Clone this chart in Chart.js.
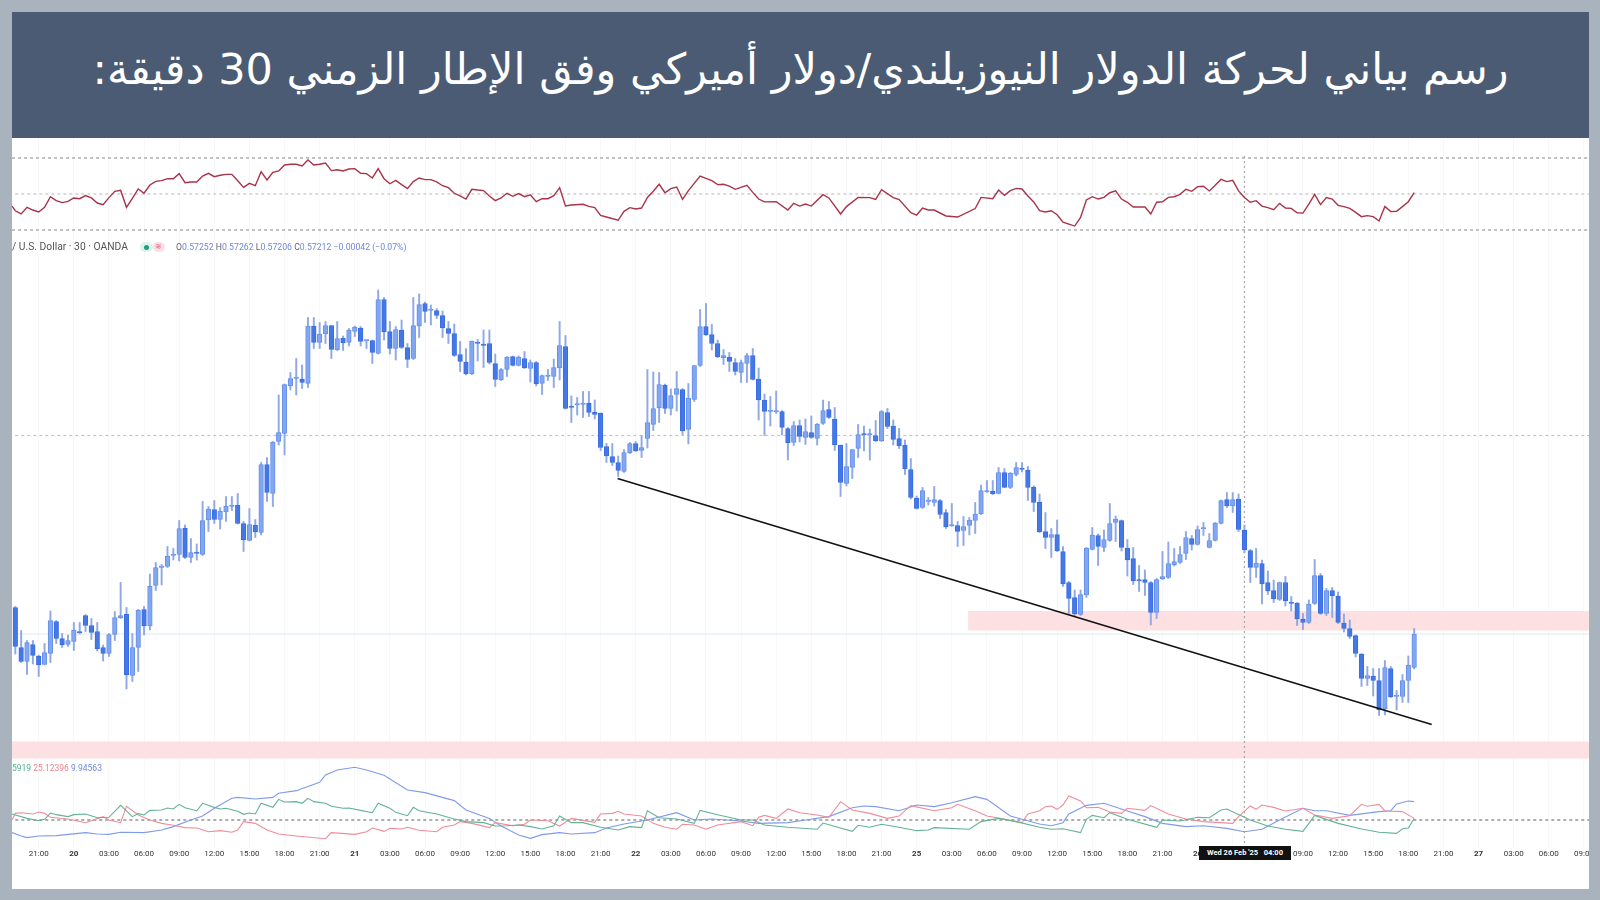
<!DOCTYPE html>
<html lang="ar">
<head>
<meta charset="utf-8">
<title>NZD/USD 30m</title>
<script src="https://cdn.jsdelivr.net/npm/chart.js@4"></script>
<style>
html,body{margin:0;padding:0;width:1600px;height:900px;overflow:hidden;background:#a9b3bd}
#panel{position:absolute;left:12px;top:138px;width:1577px;height:751px;background:#fff;z-index:0}
#c{position:absolute;left:0;top:0;z-index:1}
#head{position:absolute;left:12px;top:12px;width:1577px;height:126px;background:#4a5b73;color:#fff;z-index:3;
display:flex;align-items:center;justify-content:center;font:43px "DejaVu Sans",sans-serif;white-space:nowrap;padding-bottom:12px;box-sizing:border-box}
.b{position:absolute;background:#a9b3bd;z-index:3}
.t{position:absolute;z-index:2;font-family:Roboto,sans-serif;white-space:nowrap;line-height:12px}
#stamp{position:absolute;left:1199px;top:846px;width:92px;height:14px;background:#111;color:#fff;z-index:2;font:bold 7.5px/14px Roboto,sans-serif;text-align:center;white-space:pre}
</style>
</head>
<body>
<div id="panel"></div>
<canvas id="c" width="1600" height="900"></canvas>
<div id="head" dir="rtl">رسم بياني لحركة الدولار النيوزيلندي/دولار أميركي وفق الإطار الزمني 30 دقيقة:</div>
<div class="b" style="left:0;top:0;width:12px;height:900px"></div>
<div class="b" style="left:1589px;top:0;width:11px;height:900px"></div>
<div class="b" style="left:0;top:889px;width:1600px;height:11px"></div>
<div class="t" style="left:12px;top:241px;font-size:10.3px;color:#555">/ U.S. Dollar · 30 · OANDA</div>
<div class="t" style="left:140px;top:242px;width:13px;height:10px;border-radius:5px;background:#dff3ec;z-index:2"></div>
<div class="t" style="left:153px;top:242px;width:12px;height:10px;border-radius:5px;background:#fbdfe6;z-index:2"></div>
<div class="t" style="left:144px;top:245px;width:5px;height:5px;border-radius:3px;background:#1f9e80"></div>
<div class="t" style="left:155px;top:241px;font-size:8px;color:#d9668c">≋</div>
<div class="t" style="left:176px;top:241px;font-size:8.7px;color:#6f88d8"><span style="color:#666">O</span>0.57252 <span style="color:#666">H</span>0.57262 <span style="color:#666">L</span>0.57206 <span style="color:#666">C</span>0.57212 −0.00042 (−0.07%)</div>
<div class="t" style="left:12px;top:762px;font-size:8.5px"><span style="color:#4faf8a">5919</span> <span style="color:#ee7f8c">25.12396</span> <span style="color:#6f88e0">9.94563</span></div>
<div id="stamp">Wed 26 Feb '25   04:00</div>
<script>
// Prices in 1e-5 units (57252 = 0.57252)
const open=[57097,57017,56989,57023,57000,56983,57005,57069,57035,57023,
57029,57049,57081,57061,57049,57017,57005,57043,57076,57084,
56961,57017,57093,57060,57141,57177,57179,57201,57203,57256,
57197,57207,57203,57272,57293,57273,57288,57299,57302,57265,
57231,57262,57247,57383,57325,57429,57445,57540,57555,57554,
57545,57660,57627,57644,57661,57612,57636,57627,57649,57656,
57630,57631,57605,57713,57649,57615,57652,57617,57595,57660,
57705,57691,57691,57681,57655,57645,57603,57588,57564,57628,
57623,57625,57585,57552,57573,57599,57581,57595,57575,57587,
57545,57559,57559,57576,57619,57499,57502,57503,57506,57488,
57486,57419,57399,57387,57369,57406,57425,57411,57435,57463,
57496,57542,57495,57523,57533,57453,57513,57581,57659,57643,
57625,57596,57598,57587,57567,57585,57601,57554,57512,57489,
57488,57489,57455,57427,57461,57437,57447,57435,57465,57493,
57474,57422,57345,57377,57415,57445,57442,57441,57430,57487,
57460,57435,57422,57373,57316,57297,57309,57307,57311,57287,
57260,57261,57251,57261,57271,57284,57328,57330,57325,57367,
57337,57363,57376,57372,57338,57308,57249,57237,57243,57209,
57147,57117,57083,57122,57213,57241,57217,57231,57267,57271,
57216,57195,57152,57153,57147,57087,57154,57157,57182,57187,
57205,57235,57223,57254,57217,57231,57265,57313,57300,57314,
57252,57211,57177,57185,57147,57131,57113,57147,57107,57106,
57074,57067,57105,57161,57085,57131,57120,57066,57055,57041,
57004,56955,56960,56951,56894,56975,56919,56919,56951,56977];
const close=[57019,56989,57027,57001,56982,57007,57071,57035,57022,57031,
57052,57046,57061,57047,57014,57005,57043,57077,57081,56962,
57017,57092,57060,57140,57177,57179,57200,57203,57255,57197,
57207,57205,57271,57294,57273,57290,57300,57301,57265,57232,
57263,57248,57383,57327,57428,57447,57543,57555,57557,57547,
57660,57627,57644,57661,57613,57635,57626,57652,57658,57629,
57631,57607,57713,57648,57615,57653,57617,57593,57661,57703,
57689,57692,57681,57656,57645,57601,57589,57564,57630,57625,
57621,57587,57553,57573,57598,57581,57598,57576,57587,57544,
57561,57561,57577,57621,57495,57497,57505,57505,57487,57483,
57417,57400,57387,57371,57407,57425,57410,57417,57467,57495,
57543,57495,57521,57535,57450,57516,57581,57659,57642,57625,
57598,57601,57589,57569,57587,57601,57553,57512,57489,57491,
57490,57457,57426,57461,57439,57449,57437,57464,57491,57477,
57422,57347,57379,57413,57443,57442,57444,57430,57489,57459,
57433,57420,57374,57317,57295,57331,57311,57313,57283,57258,
57261,57249,57259,57272,57284,57331,57330,57324,57367,57337,
57366,57377,57373,57337,57307,57248,57237,57243,57210,57144,
57115,57084,57123,57216,57242,57219,57233,57265,57274,57217,
57192,57150,57150,57147,57087,57153,57159,57185,57189,57203,
57237,57223,57253,57256,57231,57266,57311,57300,57313,57253,
57212,57177,57186,57144,57130,57114,57147,57110,57105,57074,
57067,57104,57161,57085,57131,57120,57067,57055,57039,57005,
56955,56961,56951,56892,56977,56918,56920,56951,56982,57044];
const high=[57099,57051,57031,57031,57002,57025,57090,57071,57045,57042,
57067,57067,57083,57075,57067,57022,57045,57089,57147,57097,
57045,57093,57099,57164,57187,57183,57219,57215,57271,57262,
57235,57224,57309,57299,57311,57297,57319,57319,57325,57269,
57295,57273,57387,57397,57429,57522,57544,57567,57595,57582,
57677,57677,57667,57669,57661,57669,57640,57655,57660,57659,
57632,57632,57732,57717,57669,57659,57672,57625,57717,57724,
57708,57702,57695,57690,57669,57664,57629,57615,57630,57633,
57652,57652,57604,57575,57599,57600,57600,57609,57592,57589,
57562,57573,57594,57669,57641,57520,57517,57529,57529,57512,
57486,57425,57425,57400,57413,57427,57429,57441,57573,57568,
57567,57544,57534,57569,57535,57545,57581,57693,57705,57663,
57632,57613,57607,57595,57592,57605,57615,57576,57524,57519,
57530,57491,57457,57469,57472,57474,57480,57465,57512,57509,
57497,57422,57425,57413,57463,57460,57454,57471,57491,57495,
57472,57455,57432,57395,57320,57337,57317,57339,57313,57293,
57305,57269,57279,57277,57307,57342,57351,57351,57377,57375,
57367,57387,57387,57379,57340,57324,57287,57255,57272,57219,
57149,57132,57132,57217,57257,57244,57252,57305,57280,57272,
57233,57217,57181,57172,57149,57155,57209,57228,57215,57219,
57249,57241,57260,57267,57245,57267,57312,57327,57327,57324,
57262,57213,57215,57192,57170,57152,57148,57159,57119,57107,
57085,57112,57193,57165,57135,57137,57128,57084,57072,57042,
57005,56979,56975,56975,56991,56979,56931,56963,57000,57055];
const low=[57004,56987,56963,56984,56959,56982,56987,57025,57017,57019,
57011,57044,57049,57033,57010,56990,56999,57031,57075,56934,
56949,56969,57042,57052,57131,57142,57177,57192,57190,57195,
57187,57192,57201,57249,57265,57254,57269,57291,57264,57209,
57230,57237,57242,57309,57299,57422,57402,57532,57522,57535,
57537,57615,57615,57625,57595,57611,57611,57620,57639,57620,
57615,57585,57604,57632,57604,57592,57615,57577,57593,57637,
57667,57662,57675,57637,57625,57599,57569,57562,57563,57590,
57577,57584,57539,57551,57559,57580,57580,57575,57548,57540,
57523,57551,57537,57552,57494,57467,57482,57477,57479,57474,
57411,57387,57381,57359,57367,57405,57409,57397,57416,57451,
57467,57485,57482,57490,57443,57424,57509,57579,57641,57612,
57597,57583,57569,57562,57547,57547,57552,57472,57441,57460,
57485,57442,57392,57421,57428,57423,57435,57422,57463,57475,
57411,57319,57340,57355,57397,57410,57392,57429,57429,57455,
57422,57415,57363,57314,57294,57295,57302,57300,57275,57255,
57259,57219,57221,57242,57245,57283,57327,57323,57324,57337,
57335,57360,57368,57311,57289,57247,57215,57197,57209,57139,
57084,57080,57081,57117,57212,57181,57209,57229,57229,57210,
57160,57143,57129,57121,57062,57075,57153,57155,57180,57185,
57193,57212,57222,57241,57216,57230,57264,57297,57287,57249,
57206,57147,57157,57104,57123,57107,57111,57100,57090,57061,
57053,57065,57103,57083,57081,57077,57065,57048,57035,56998,
56939,56941,56920,56881,56882,56917,56892,56907,56907,56974];

// RSI: candle index / value
const rsiIdx=[-0.56,0,1,2,3,4,5,6,7,8,9,10,11,12,13,14,15,16,17,18,19,20,21,22,23,24,25,26,27,28,29,30,31,32,33,34,35,36,37,38,39,40,41,42,43,44,45,46,47,48,49,50,51,52,53,54,55,56,57,58,59,60,61,62,63,64,65,66,67,68,69,70,71,72,73,74,75,76,77,78,79,80,81,82,83,84,85,86,87,88,89,90,91,92,93,94,95,97,98,99,100,101,103,104,105,106,107,108,109,110,111,112,113,114,115,117,118,119,120,121,122,123,125,126,127,128,130,132,133,134,135,136,138,139,141,142,144,146,147,148,150,151,153,154,155,156,157,159,161,164,165,167,168,169,170,171,172,173,174,175,176,177,178,179,180,181,182,183,184,185,186,187,188,189,190,191,193,194,195,196,197,198,199,200,201,202,203,204,205,206,207,208,209,210,211,212,213,214,215,216,217,218,219,220,221,222,223,224,225,226,227,228,229,230,231,232,233,234,235,236,237,238,239];
const rsiVal=[43.3,40.7,38.9,42.6,41.1,40,42.6,48.5,46.3,45.2,45.9,47.8,47.4,49.1,47.8,45,44.1,48,51.5,52,42.6,47.6,52.8,50.4,55,57,57.4,58.5,58.5,61.3,56.3,56.7,56.7,60,61.5,59.6,60.4,60.9,60.9,57.4,53.7,55.9,54.6,62.4,57.8,62,62.8,66.1,66.5,66.5,65.6,68.9,66.1,66.5,67.2,63,63.5,62.8,63.9,64.1,61.5,61.3,58.9,64.1,58.5,55.7,57.6,55.2,53,56.9,58.9,58,58,56.7,54.6,53.5,50.4,48.9,47.2,52.6,52.2,51.9,48.9,46.3,47.8,50.4,48.7,50.2,48.5,49.6,45.7,47.4,47.4,49.1,53.5,43.3,43.9,44.3,43.1,42.4,38.1,37.2,35.4,40.4,42.4,41.7,42.2,48.1,51.5,55.4,50.7,53,53.9,47,51.9,60,58.7,57.4,55.2,55.4,54.4,52.6,54.8,50.9,47.2,45.6,45.7,41.1,44.8,43.3,44.4,43.3,49.6,47.8,38.9,43,48.1,48,47,52.4,48,46.9,39.6,38.3,42.2,41.1,41.1,37.8,37.2,41.9,48.1,47.4,52.2,49.3,51.9,53.1,52.8,48.9,45.6,40.7,40,40.7,38.5,34.4,33.3,32.2,37,46.7,48.5,47.2,48.1,50.7,51.7,47.2,45.4,42.8,42.8,38.9,45.4,45.7,48.1,48.5,49.8,52.6,51.5,54.1,54.3,51.7,54.8,58.1,56.9,57.6,51.7,48.1,45.4,46.3,43.3,42.4,41.3,44.8,42.2,42,39.6,39.4,44.4,49.8,44.1,48,47.2,43.7,43,42,39.8,37.4,38,37.4,35,43.1,40.2,40.4,43,45.7,50.7];
const rsiLevels=[70,50,30];

// Directional movement panel
const plusIdx=[-0.56,2,4,5,6,7,9,10,12,14,16,18,20,21,22,23,25,26,27,28,29,31,32,34,35,36,38,39,40,41,42,44,45,46,48,49,50,51,53,54,56,57,59,61,62,64,65,67,68,69,72,75,77,80,82,84,86,88,90,92,93,95,97,100,103,105,107,108,110,113,116,117,120,124,126,128,132,137,138,143,144,146,148,151,154,156,157,163,165,168,171,175,177,179,182,183,184,186,187,190,195,196,199,202,204,206,207,211,214,217,220,222,226,230,233,236,237,238,239];
const plusVal=[25.2,21.4,19.4,20.6,26,24.6,22.9,24.6,25.2,22,22.3,32.6,22.9,25.5,24.3,28.3,28.6,30.3,29.5,33.5,30.6,28,34.4,30.9,29.5,30.1,27.5,24.9,26,25.2,34.4,30.9,37.8,35.5,35.8,34.4,38.7,35.8,34.4,31.8,30.1,30.3,28.3,26.3,34.4,30.1,26.6,23.7,30.9,28,25.2,20.9,18.6,17.7,14.8,15.1,15.7,14.3,12.2,15.1,23.4,17.7,17.7,13.7,11.4,14.3,13.4,28,22,20.9,17.1,28.3,24.6,20,20,15.7,13.7,12,17.4,10.2,15.4,13.7,16.3,13.7,10.8,11.4,13.4,12,18.6,21.4,18.6,13.7,12,12.5,9.1,20.6,24,22,26.3,20.6,13.7,20,19.1,22.3,22,28.6,29.5,20,14.8,12,10.2,24,17.1,12.2,9.4,8.5,12.5,13.1,21.4];
const minusIdx=[-0.56,0,1,3,4,5,6,9,12,15,16,18,19,21,23,25,27,29,31,33,35,37,38,39,41,43,45,48,53,54,58,60,61,63,64,66,67,69,72,73,75,76,78,81,82,85,87,88,91,93,95,99,100,102,103,104,107,109,111,113,114,116,118,120,124,126,127,128,130,132,134,137,139,141,143,146,149,151,153,157,160,161,164,166,168,171,172,173,175,176,177,178,179,180,182,183,185,187,189,190,193,194,197,200,203,208,209,211,212,213,215,217,220,222,225,228,230,231,233,234,237,239];
const minusVal=[20,25.7,26.3,25.2,26.9,25.7,22.3,20.9,17.7,22.9,20,17.7,31.8,24.3,20,17.1,15.4,13.4,13.1,9.9,10.8,9.4,11.4,18.6,17.1,11.4,7.9,6.2,3.9,9.1,7.6,9.9,13.1,10.2,12.8,12.2,13.7,11.1,9.9,13.7,15.7,18.6,17.1,13.4,17.7,15.1,16.3,20,19.4,14.8,21.4,18,25.2,25.7,27.5,25.2,23.4,17.1,13.7,12,16.3,15.7,12,15.7,18.6,15.1,22.3,24,21.4,29.5,26.3,24.3,22.3,35.8,28.6,25.7,21.4,23.4,32.4,28,30.6,33.5,28,23.4,21.7,18.6,17.7,25.2,28,31.5,32.1,29.2,32.9,40.7,36.4,30.6,30.9,26.9,25.7,30.1,28.3,32.4,25.2,20.9,18.6,17.1,22.9,32.1,29.2,32.9,30.9,27.8,30.1,24.3,21.4,23.7,33.5,31.8,33.5,27.8,27.2,21.4];
const adxIdx=[-0.56,1,2,4,7,12,14,16,18,22,25,27,30,32,34,37,38,41,44,45,48,52,53,55,58,60,63,67,70,75,77,81,83,86,88,90,93,95,99,101,104,108,113,116,119,124,127,132,135,139,143,145,147,151,154,157,160,164,166,170,175,177,179,180,183,186,190,193,196,200,203,207,210,213,216,220,222,224,228,233,235,236,238,239];
const adxVal=[9.1,6.2,4.8,6.2,6.5,9.1,7.9,7.6,9.4,9.1,11.4,14.3,20,23.4,30.1,38.7,39.5,38.1,39.5,43,45.3,52.5,58.8,63.1,65.4,63.1,58.5,45.9,43.6,36.7,28.6,21.4,14.8,7.1,4.2,7.4,9.1,7.9,9.1,13.1,16.6,20,26.3,20,20.9,19.1,17.1,17.7,20,22.9,30.6,32.1,31.5,28,32.9,31.5,34.9,40.1,37.8,23.4,16.6,15.1,17.7,25.2,32.6,34.4,27.8,22.9,17.1,14.3,15.1,12.8,9.9,12,20,30.1,28,28,24,27.2,28,33.8,36.4,35.8];
const dmiLevel=20;

// Time axis
const tickIdx=[4,10,16,22,28,34,40,46,52,58,64,70,76,82,88,94,100,106,112,118,124,130,136,142,148,154,160,166,172,178,184,190,196,202,208,214,220,226,232,238,244,250,256,262,268];
const tickLabels=["21:00","20","03:00","06:00","09:00","12:00","15:00","18:00","21:00","21","03:00","06:00","09:00","12:00","15:00","18:00","21:00","22","03:00","06:00","09:00","12:00","15:00","18:00","21:00","25","03:00","06:00","09:00","12:00","15:00","18:00","21:00","26","03:00","06:00","09:00","12:00","15:00","18:00","21:00","27","03:00","06:00","09:00"];

// Annotations
const supportBands=[[57090,57051,162.8],[56829,56795,-0.6]]; // top, bottom, start candle
const midLevel=57441, lastLine=57044;
const trendIdx=[102.9,242], trendPrice=[57355,56863];
const crossIdx=210, crossPrice=[58000,56620];

const xy=(xs,ys)=>xs.map((x,i)=>({x,y:ys[i]}));
const XMIN=-0.564, XMAX=268.87;
const hLine=(v,axis,color,dash,w,from)=>({type:'line',yAxisID:axis,data:[{x:from??XMIN,y:v},{x:XMAX,y:v}],borderColor:color,borderDash:dash,borderWidth:w,pointRadius:0,order:8});
const line=(xs,ys,axis,color,w,order)=>({type:'line',yAxisID:axis,data:xy(xs,ys),borderColor:color,borderWidth:w,pointRadius:0,tension:0,order:order});

const bandPlugin={id:'bands',beforeDatasetsDraw(ch){
  const g=ch.ctx,X=ch.scales.x,Y=ch.scales.yMain,a=ch.chartArea;
  g.save();g.fillStyle='#fde0e2';
  supportBands.forEach(b=>{const t=Y.getPixelForValue(b[0]),u=Y.getPixelForValue(b[1]),l=Math.max(X.getPixelForValue(b[2]),a.left);
    g.fillRect(l,t,a.right-l,u-t);});
  g.restore();
}};

new Chart(document.getElementById('c'),{
  type:'bar',
  plugins:[bandPlugin],
  data:{datasets:[
    ...rsiLevels.map((v,i)=>hLine(v,'yRsi',i==1?'#c4c4c4':'#9c9c9c',[3,3],1.2,i==1?0:null)),
    hLine(dmiLevel,'yDmi','#8c8c8c',[3,3],1.4,0),
    hLine(midLevel,'yMain','#c4c4c4',[3,3],1.2,0),
    hLine(lastLine,'yMain','#e0e9f4',[],1,0),
    {type:'line',yAxisID:'yMain',data:[{x:crossIdx,y:crossPrice[0]},{x:crossIdx,y:crossPrice[1]}],borderColor:'#a8a8a8',borderDash:[2,3],borderWidth:1.2,pointRadius:0,order:7},
    line(rsiIdx,rsiVal,'yRsi','#a93349',1.4,3),
    line(plusIdx,plusVal,'yDmi','#63b394',1.1,3),
    line(minusIdx,minusVal,'yDmi','#ef8d99',1.1,3),
    line(adxIdx,adxVal,'yDmi','#7f9bec',1.1,3),
    {type:'bar',yAxisID:'yMain',data:high.map((h,i)=>({x:i,y:[low[i],h]})),backgroundColor:'#90a9e4',barThickness:1.3,grouped:false,order:6},
    {type:'bar',yAxisID:'yMain',data:open.map((o,i)=>({x:i,y:[o,close[i]]})),
      backgroundColor:c=>close[c.dataIndex]<open[c.dataIndex]?'#4478e6':'#82a7f2',
      borderColor:c=>close[c.dataIndex]<open[c.dataIndex]?'#3a6de0':'#668fe6',
      borderWidth:1,borderSkipped:false,barThickness:4.6,minBarLength:1.5,grouped:false,order:5},
    line(trendIdx,trendPrice,'yMain','#111',1.6,1)
  ]},
  options:{
    responsive:false,animation:false,devicePixelRatio:1,
    layout:{padding:{left:12,top:138,right:11,bottom:0}},
    plugins:{legend:{display:false},tooltip:{enabled:false},title:{display:false}},
    elements:{line:{fill:false}},
    scales:{
      x:{type:'linear',min:XMIN,max:XMAX,offset:false,
        afterBuildTicks(s){s.ticks=tickIdx.map(v=>({value:v}));},
        afterFit(s){s.height=52;},
        border:{display:false},
        grid:{color:'#f8f8fa',offset:false,drawTicks:false},
        ticks:{autoSkip:false,maxRotation:0,padding:1,color:'#333',
          font:c=>({family:'Roboto',size:8,weight:(c.tick&&tickLabels[tickIdx.indexOf(c.tick.value)].length<3)?'bold':'normal'}),
          callback:v=>tickLabels[tickIdx.indexOf(v)]}},
      yMain:{type:'linear',display:false,min:56616,max:58036},
      yRsi:{type:'linear',display:false,min:-313.33,max:81.11},
      yDmi:{type:'linear',display:false,min:-4.14,max:607.9}
    }
  }
});
</script>
</body>
</html>
